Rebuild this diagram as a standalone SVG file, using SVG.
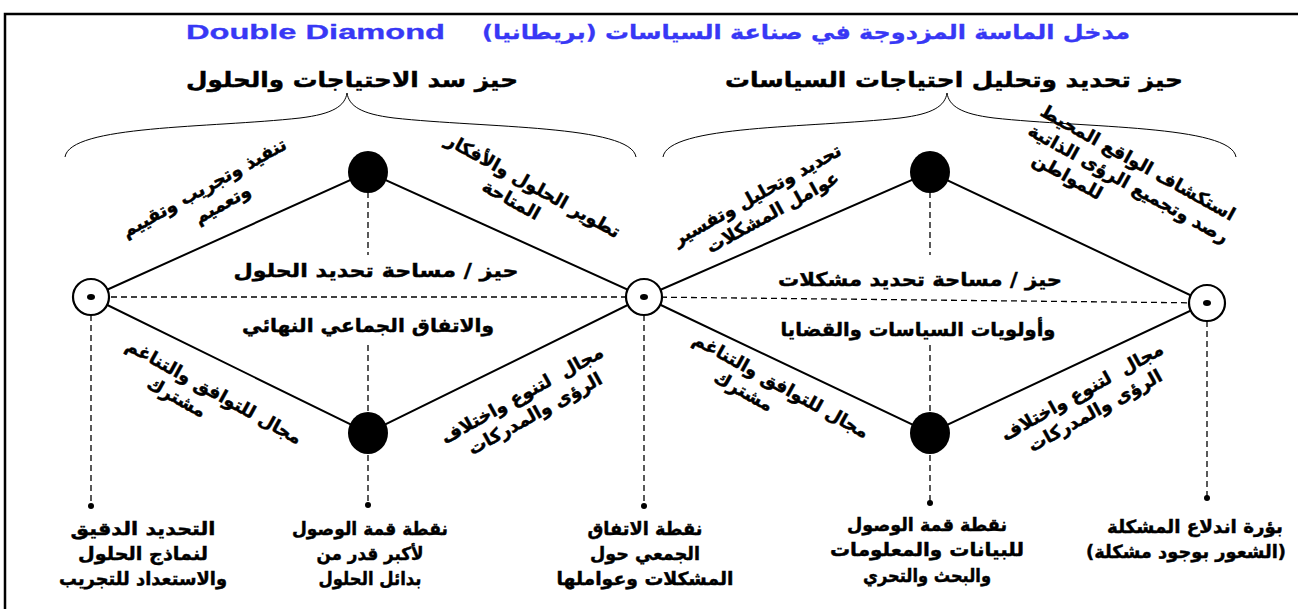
<svg xmlns="http://www.w3.org/2000/svg" width="1298" height="609" viewBox="0 0 1298 609">
<style>
  text { font-family: "DejaVu Sans", "Liberation Sans", sans-serif; font-weight: bold; fill: #000; stroke: #000; stroke-width: 0.45; direction: rtl; }
  .title { font-size: 20px; fill: #3838f5; stroke: #3838f5; stroke-width: 0.3; }
  .en { font-family: "Liberation Sans", Arial, sans-serif; direction: ltr; }
  .hdr { font-size: 21px; text-anchor: middle; }
  .mid { font-size: 19px; text-anchor: middle; }
  .rot { font-size: 18px; text-anchor: middle; }
  .lbl { font-size: 18px; text-anchor: middle; }
  .edge { stroke: #000; stroke-width: 2; fill: none; }
  .dash { stroke: #000; stroke-width: 1.3; stroke-dasharray: 6 4; fill: none; }
  .brace { stroke: #000; stroke-width: 1; fill: none; }
  .ring { fill: #fff; stroke: #000; stroke-width: 2.2; }
</style>
<rect x="0" y="0" width="1298" height="609" fill="#fff"/>
<rect x="5" y="14" width="1300" height="600" fill="none" stroke="#000" stroke-width="2.5"/>

<g id="title">
  <text class="title" x="806" y="39" text-anchor="middle" textLength="648" lengthAdjust="spacingAndGlyphs">مدخل الماسة المزدوجة في صناعة السياسات (بريطانيا)</text>
  <text class="title en" x="186" y="39" text-anchor="start" textLength="259" lengthAdjust="spacingAndGlyphs">Double Diamond</text>
</g>

<g id="headers">
  <text class="hdr" x="352" y="87" textLength="332" lengthAdjust="spacingAndGlyphs">حيز سد الاحتياجات والحلول</text>
  <text class="hdr" x="954" y="87" textLength="458" lengthAdjust="spacingAndGlyphs">حيز تحديد وتحليل احتياجات السياسات</text>
</g>

<g id="braces">
  <path class="brace" d="M65,157 C70,125 210,128 300,118 C333,114 345,106 347,93 C349,106 361,114 394,118 C484,128 631,125 636,157"/>
  <path class="brace" d="M663,157 C668,125 810,128 900,118 C933,114 945,106 947,93 C949,106 961,114 994,118 C1084,128 1231,125 1236,157"/>
</g>

<g id="connectors">
  <polyline class="edge" points="91,297 368,172 644,297 368,433 91,297"/>
  <polyline class="edge" points="644,297 930,172 1207,303 930,433 644,297"/>
  <polyline class="dash" points="91,297 644,297 1207,303"/>
  <line class="dash" x1="368" y1="192" x2="368" y2="255"/>
  <line class="dash" x1="930" y1="192" x2="930" y2="255"/>
  <line class="dash" x1="368" y1="345" x2="368" y2="505"/>
  <line class="dash" x1="930" y1="345" x2="930" y2="503"/>
  <line class="dash" x1="91" y1="315" x2="91" y2="506"/>
  <line class="dash" x1="644" y1="315" x2="644" y2="506"/>
  <line class="dash" x1="1207" y1="321" x2="1207" y2="498"/>
  <circle cx="91" cy="506" r="3"/>
  <circle cx="368" cy="505" r="3"/>
  <circle cx="644" cy="506" r="3"/>
  <circle cx="930" cy="503" r="3"/>
  <circle cx="1207" cy="498" r="3"/>
</g>

<g id="node-left">
  <circle class="ring" cx="91" cy="297" r="18"/>
  <ellipse cx="91" cy="297" rx="4" ry="3"/>
</g>
<g id="node-center">
  <circle class="ring" cx="644" cy="297" r="18"/>
  <ellipse cx="644" cy="297" rx="4" ry="3"/>
</g>
<g id="node-right">
  <circle class="ring" cx="1207" cy="303" r="18"/>
  <ellipse cx="1207" cy="303" rx="4" ry="3"/>
</g>
<g id="node-top-left"><ellipse cx="368" cy="172" rx="20" ry="21"/></g>
<g id="node-bottom-left"><ellipse cx="368" cy="433" rx="20" ry="21"/></g>
<g id="node-top-right"><ellipse cx="930" cy="172" rx="20" ry="21"/></g>
<g id="node-bottom-right"><ellipse cx="930" cy="433" rx="20" ry="21"/></g>

<g id="inner-texts">
  <text class="mid" x="376" y="277" textLength="285" lengthAdjust="spacingAndGlyphs">حيز / مساحة تحديد الحلول</text>
  <text class="mid" x="368" y="332" textLength="252" lengthAdjust="spacingAndGlyphs">والاتفاق الجماعي النهائي</text>
  <text class="mid" x="920" y="286" textLength="284" lengthAdjust="spacingAndGlyphs">حيز / مساحة تحديد مشكلات</text>
  <text class="mid" x="918" y="336" textLength="275" lengthAdjust="spacingAndGlyphs">وأولويات السياسات والقضايا</text>
</g>

<g id="edge-labels">
  <g transform="translate(207,193) rotate(-29)">
    <text class="rot" x="0" y="0">تنفيذ وتجريب وتقييم</text>
    <text class="rot" x="8" y="23">وتعميم</text>
  </g>
  <g transform="translate(530,191) rotate(29)">
    <text class="rot" x="0" y="0">تطوير الحلول والأفكار</text>
    <text class="rot" x="-12" y="23">المتاحة</text>
  </g>
  <g transform="translate(211,397) rotate(29)">
    <text class="rot" x="0" y="0">مجال للتوافق والتناغم</text>
    <text class="rot" x="-30" y="23">مشترك</text>
  </g>
  <g transform="translate(525,400) rotate(-29)">
    <text class="rot" x="0" y="0" xml:space="preserve">مجال  لتنوع واختلاف</text>
    <text class="rot" x="2" y="23">الرؤى والمدركات</text>
  </g>
  <g transform="translate(760,200) rotate(-29)">
    <text class="rot" x="0" y="0">تحديد وتحليل وتفسير</text>
    <text class="rot" x="5" y="23">عوامل المشكلات</text>
  </g>
  <g transform="translate(1135,168) rotate(29)">
    <text class="rot" x="0" y="0">استكشاف الواقع المحيط</text>
    <text class="rot" x="2" y="23">رصد وتجميع الرؤى الذاتية</text>
    <text class="rot" x="-55" y="46">للمواطن</text>
  </g>
  <g transform="translate(778,391) rotate(29)">
    <text class="rot" x="0" y="0">مجال للتوافق والتناغم</text>
    <text class="rot" x="-30" y="23">مشترك</text>
  </g>
  <g transform="translate(1085,397) rotate(-29)">
    <text class="rot" x="0" y="0" xml:space="preserve">مجال  لتنوع واختلاف</text>
    <text class="rot" x="2" y="23">الرؤى والمدركات</text>
  </g>
</g>

<g id="bottom-labels">
  <text class="lbl" x="143" y="535" textLength="145" lengthAdjust="spacingAndGlyphs">التحديد الدقيق</text>
  <text class="lbl" x="143" y="560" textLength="130" lengthAdjust="spacingAndGlyphs">لنماذج الحلول</text>
  <text class="lbl" x="143" y="585" textLength="168" lengthAdjust="spacingAndGlyphs">والاستعداد للتجريب</text>
  <text class="lbl" x="370" y="535" textLength="156" lengthAdjust="spacingAndGlyphs">نقطة قمة الوصول</text>
  <text class="lbl" x="370" y="560" textLength="107" lengthAdjust="spacingAndGlyphs">لأكبر قدر من</text>
  <text class="lbl" x="370" y="585" textLength="103" lengthAdjust="spacingAndGlyphs">بدائل الحلول</text>
  <text class="lbl" x="645" y="535" textLength="115" lengthAdjust="spacingAndGlyphs">نقطة الاتفاق</text>
  <text class="lbl" x="645" y="560" textLength="110" lengthAdjust="spacingAndGlyphs">الجمعي حول</text>
  <text class="lbl" x="645" y="585" textLength="177" lengthAdjust="spacingAndGlyphs">المشكلات وعواملها</text>
  <text class="lbl" x="927" y="531" textLength="160" lengthAdjust="spacingAndGlyphs">نقطة قمة الوصول</text>
  <text class="lbl" x="927" y="556" textLength="194" lengthAdjust="spacingAndGlyphs">للبيانات والمعلومات</text>
  <text class="lbl" x="927" y="582" textLength="128" lengthAdjust="spacingAndGlyphs">والبحث والتحري</text>
  <text class="lbl" x="1195" y="533" textLength="176" lengthAdjust="spacingAndGlyphs">بؤرة اندلاع المشكلة</text>
  <text class="lbl" x="1186" y="558" textLength="200" lengthAdjust="spacingAndGlyphs">(الشعور بوجود مشكلة)</text>
</g>
</svg>
